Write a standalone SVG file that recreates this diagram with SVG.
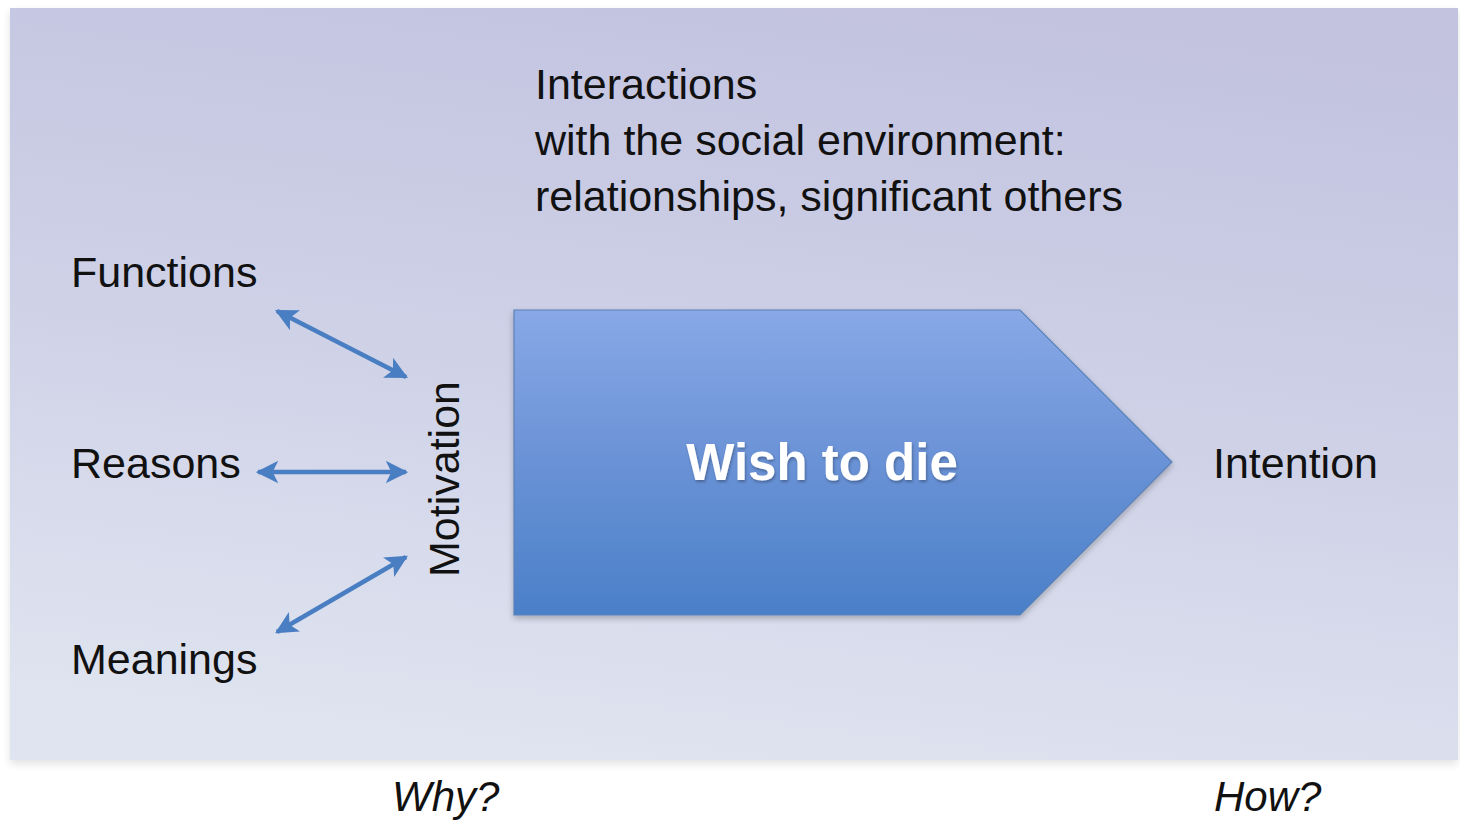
<svg xmlns="http://www.w3.org/2000/svg" width="1460" height="820" viewBox="0 0 1460 820">
  <defs>
    <linearGradient id="panelFill" x1="0.62" y1="0" x2="0.38" y2="1">
      <stop offset="0" stop-color="#c3c3e0"/>
      <stop offset="0.45" stop-color="#cdd0e6"/>
      <stop offset="1" stop-color="#dfe4f0"/>
    </linearGradient>
    <linearGradient id="arrowFill" x1="0" y1="0" x2="0" y2="1">
      <stop offset="0" stop-color="#88a8e6"/>
      <stop offset="0.5" stop-color="#6a92d6"/>
      <stop offset="1" stop-color="#4a80c8"/>
    </linearGradient>
    <filter id="soft" x="-5%" y="-5%" width="110%" height="112%">
      <feGaussianBlur in="SourceAlpha" stdDeviation="3"/>
      <feOffset dx="0" dy="3" result="b"/>
      <feComponentTransfer><feFuncA type="linear" slope="0.25"/></feComponentTransfer>
      <feMerge><feMergeNode/><feMergeNode in="SourceGraphic"/></feMerge>
    </filter>
    <filter id="panelShadow" x="-2%" y="-2%" width="104%" height="106%">
      <feGaussianBlur in="SourceAlpha" stdDeviation="4"/>
      <feOffset dx="0" dy="4" result="b"/>
      <feComponentTransfer><feFuncA type="linear" slope="0.12"/></feComponentTransfer>
      <feMerge><feMergeNode/><feMergeNode in="SourceGraphic"/></feMerge>
    </filter>
    <filter id="textShadow" x="-5%" y="-20%" width="110%" height="140%">
      <feGaussianBlur in="SourceAlpha" stdDeviation="1.5"/>
      <feOffset dx="1" dy="2" result="b"/>
      <feComponentTransfer><feFuncA type="linear" slope="0.3"/></feComponentTransfer>
      <feMerge><feMergeNode/><feMergeNode in="SourceGraphic"/></feMerge>
    </filter>
    <marker id="head" viewBox="0 0 20 20" refX="18" refY="10" markerWidth="5" markerHeight="5" orient="auto-start-reverse" markerUnits="strokeWidth">
      <path d="M0,0 L20,10 L0,20 L5,10 z" fill="#4a7ec2"/>
    </marker>
    <style>
      .lbl { font-family: "Liberation Sans", Arial, sans-serif; font-size: 43px; fill: #111; }
      .ital { font-family: "Liberation Sans", Arial, sans-serif; font-size: 42px; font-style: italic; fill: #111; }
      .main { font-family: "Liberation Sans", Arial, sans-serif; font-size: 51px; font-weight: bold; fill: #ffffff; }
      .link { stroke: #4a7ec2; stroke-width: 4.5; fill: none; marker-start: url(#head); marker-end: url(#head); }
    </style>
  </defs>

  <rect width="1460" height="820" fill="#ffffff"/>
  <!-- background panel -->
  <rect x="10" y="8" width="1448" height="752" fill="url(#panelFill)" filter="url(#panelShadow)"/>

  <g id="interactions">
    <text class="lbl" x="535" y="99">Interactions</text>
    <text class="lbl" x="535" y="155">with the social environment:</text>
    <text class="lbl" x="535" y="211">relationships, significant others</text>
  </g>

  <g id="functions"><text class="lbl" x="71" y="287">Functions</text></g>
  <g id="reasons"><text class="lbl" x="71" y="478">Reasons</text></g>
  <g id="meanings"><text class="lbl" x="71" y="674">Meanings</text></g>

  <g id="motivation">
    <text class="lbl" x="0" y="0" text-anchor="middle" transform="translate(459,479) rotate(-90)">Motivation</text>
  </g>

  <g id="wish">
    <path d="M514,310 L1020,310 L1172,462 L1020,615 L514,615 Z" fill="url(#arrowFill)" stroke="#5a80b8" stroke-width="1.2" filter="url(#soft)"/>
    <text class="main" x="822" y="480" text-anchor="middle" filter="url(#textShadow)">Wish to die</text>
  </g>

  <g id="intention"><text class="lbl" x="1213" y="478">Intention</text></g>

  <g id="why"><text class="ital" x="392" y="811">Why?</text></g>
  <g id="how"><text class="ital" x="1214" y="811">How?</text></g>

  <g id="connectors">
    <line class="link" x1="277" y1="311" x2="406" y2="377"/>
    <line class="link" x1="258" y1="472" x2="406" y2="472"/>
    <line class="link" x1="277" y1="632" x2="406" y2="557"/>
  </g>
</svg>
